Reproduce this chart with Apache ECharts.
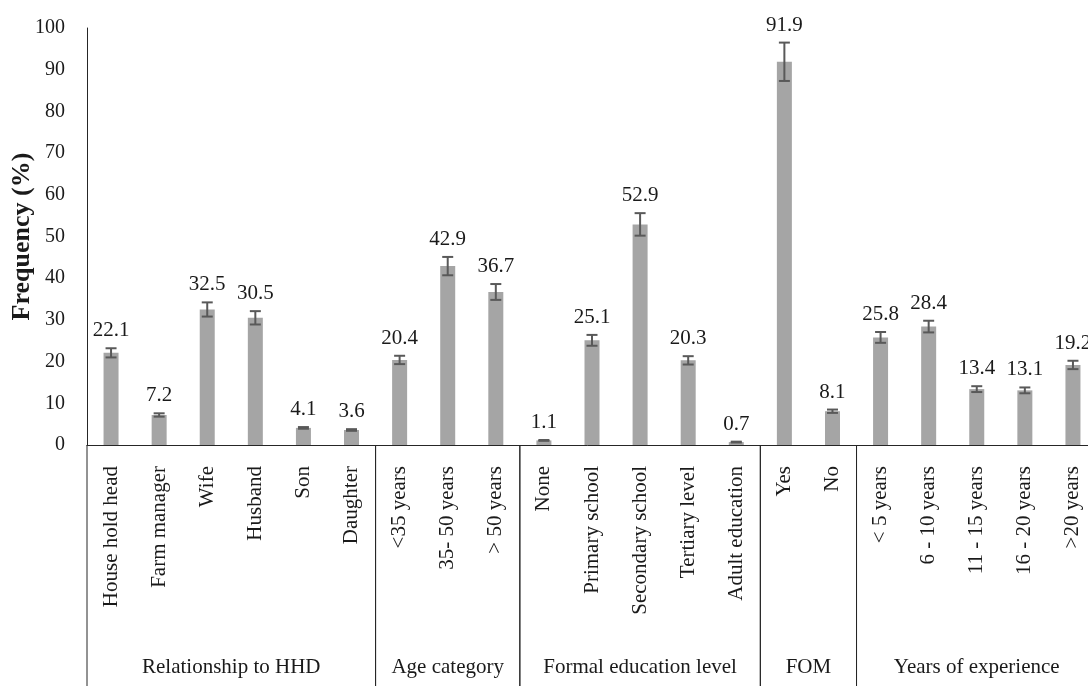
<!DOCTYPE html>
<html>
<head>
<meta charset="utf-8">
<script src="https://cdn.jsdelivr.net/npm/echarts@6/dist/echarts.min.js"></script>
<style>
  html, body { margin: 0; padding: 0; background: #ffffff; }
  #chart { width: 1088px; height: 686px; }
</style>
</head>
<body>
<div id="chart"></div>
<script>
// Respondent characteristics, frequency in percent with error margins
const categories = [
  'House hold head', 'Farm manager', 'Wife', 'Husband', 'Son', 'Daughter',
  '<35 years', '35- 50 years', '> 50 years',
  'None', 'Primary school', 'Secondary school', 'Tertiary level', 'Adult education',
  'Yes', 'No',
  '< 5 years', '6 - 10 years', '11 - 15 years', '16 - 20 years', '>20 years'
];
const frequency = [
  22.1, 7.2, 32.5, 30.5, 4.1, 3.6,
  20.4, 42.9, 36.7,
  1.1, 25.1, 52.9, 20.3, 0.7,
  91.9, 8.1,
  25.8, 28.4, 13.4, 13.1, 19.2
];
const errorMargin = [
  1.1, 0.4, 1.7, 1.6, 0.2, 0.2,
  1.0, 2.2, 1.9,
  0.1, 1.3, 2.7, 1.0, 0.1,
  4.6, 0.4,
  1.3, 1.4, 0.7, 0.7, 1.0
];
const groupNames = ['Relationship to HHD', 'Age category', 'Formal education level', 'FOM', 'Years of experience'];
const groupSizes = [6, 3, 5, 2, 5];
const yTicks = [0, 10, 20, 30, 40, 50, 60, 70, 80, 90, 100];

const FONT = '"Liberation Serif", "Times New Roman", serif';
const TEXT = '#1a1a1a';

// group spans as [firstIndex, lastIndex, 0, name]
const groupSpans = [];
let start = 0;
groupSizes.forEach((n, i) => {
  groupSpans.push([start, start + n - 1, 0, groupNames[i]]);
  start += n;
});

const errorData = frequency.map((v, i) => [i, v - errorMargin[i], v + errorMargin[i], v]);

const chart = echarts.init(document.getElementById('chart'), null, { renderer: 'canvas' });

chart.setOption({
  animation: false,
  backgroundColor: '#ffffff',
  grid: {
    left: 87, top: 28, bottom: 241, width: 1010,
    containLabel: false,
    outerBoundsMode: 'none'
  },
  xAxis: {
    type: 'category',
    data: categories,
    axisLine: { lineStyle: { color: '#262626', width: 1 } },
    axisTick: { show: false },
    axisLabel: {
      interval: 0,
      rotate: 90,
      margin: 21,
      fontFamily: FONT,
      fontSize: 21,
      color: TEXT
    }
  },
  yAxis: {
    type: 'value',
    min: yTicks[0],
    max: yTicks[yTicks.length - 1],
    interval: 10,
    name: 'Frequency (%)',
    nameLocation: 'middle',
    nameGap: 52,
    nameMoveOverlap: false,
    nameRotate: 90,
    nameTextStyle: { fontFamily: FONT, fontSize: 26, fontWeight: 'bold', color: TEXT },
    axisLine: { show: true, lineStyle: { color: '#262626', width: 1 } },
    axisTick: { show: false },
    splitLine: { show: false },
    axisLabel: { margin: 22, fontFamily: FONT, fontSize: 20, color: TEXT }
  },
  series: [
    {
      type: 'bar',
      data: frequency,
      barWidth: 15,
      itemStyle: { color: '#a5a5a5' },
      z: 2
    },
    {
      type: 'custom',
      data: errorData,
      encode: { x: 0, y: [1, 2] },
      z: 3,
      renderItem: function (params, api) {
        const i = api.value(0);
        const lo = api.coord([i, api.value(1)]);
        const hi = api.coord([i, api.value(2)]);
        const cap = 5.5;
        const style = { stroke: '#595959', lineWidth: 2 };
        return {
          type: 'group',
          children: [
            { type: 'line', shape: { x1: hi[0], y1: hi[1], x2: lo[0], y2: lo[1] }, style },
            { type: 'line', shape: { x1: hi[0] - cap, y1: hi[1], x2: hi[0] + cap, y2: hi[1] }, style },
            { type: 'line', shape: { x1: lo[0] - cap, y1: lo[1], x2: lo[0] + cap, y2: lo[1] }, style },
            {
              type: 'text',
              x: hi[0],
              y: hi[1] - 7,
              style: {
                text: String(api.value(3)),
                fontFamily: FONT,
                fontSize: 21,
                fill: TEXT,
                align: 'center',
                verticalAlign: 'bottom'
              }
            }
          ]
        };
      }
    },
    {
      type: 'custom',
      data: groupSpans,
      encode: { x: 0, y: 2 },
      z: 4,
      silent: true,
      renderItem: function (params, api) {
        const bw = api.size([1, 0])[0];
        const p0 = api.coord([api.value(0), 0]);
        const p1 = api.coord([api.value(1), 0]);
        const x0 = p0[0] - bw / 2;
        const x1 = p1[0] + bw / 2;
        const y0 = p0[1];
        const h = api.getHeight();
        const name = groupSpans[params.dataIndex][3];
        return {
          type: 'group',
          children: [
            { type: 'line', shape: { x1: x0, y1: y0, x2: x0, y2: h }, style: { stroke: '#262626', lineWidth: 1 } },
            { type: 'line', shape: { x1: x1, y1: y0, x2: x1, y2: h }, style: { stroke: '#262626', lineWidth: 1 } },
            {
              type: 'text',
              x: (x0 + x1) / 2,
              y: y0 + 222,
              style: {
                text: name,
                fontFamily: FONT,
                fontSize: 21,
                fill: TEXT,
                align: 'center',
                verticalAlign: 'middle'
              }
            }
          ]
        };
      }
    }
  ]
});
</script>
</body>
</html>
